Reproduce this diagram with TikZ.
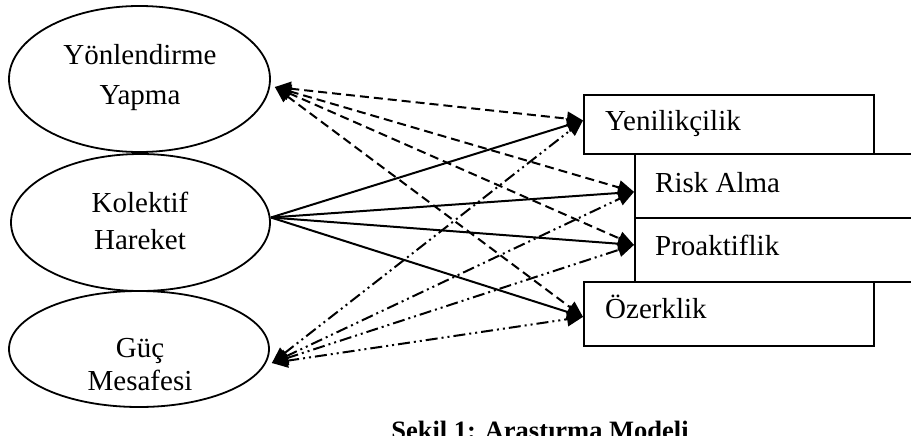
\documentclass[tikz,border=0pt]{standalone}
\usepackage{fontspec}
\setmainfont{Liberation Serif}
\usetikzlibrary{shapes.geometric,arrows.meta}
\begin{document}
\begin{tikzpicture}[x=1pt,y=-1pt,
  oval/.style={draw,ellipse,line width=1.8pt,inner sep=0pt},
  box/.style={draw,rectangle,line width=1.8pt,anchor=north west,inner sep=0pt},
  lbl/.style={font=\fontsize{29}{34}\selectfont,anchor=base,inner sep=0pt},
  blbl/.style={lbl,anchor=base west},
  tip/.tip={Triangle[length=16pt,width=14pt]},
  conn/.style={line width=2pt,-tip},
  both/.style={line width=2pt,tip-tip},
  dsh/.style={both,dash pattern=on 9pt off 5pt},
  ddd/.style={both,dash pattern=on 12pt off 4pt on 2pt off 4pt on 2pt off 4pt},
]
\useasboundingbox (0,0) rectangle (911,436);
\clip (0,0) rectangle (911,436);

% ellipses
\node[oval,minimum width=261pt,minimum height=146pt] (e1) at (139.5,79) {};
\node[oval,minimum width=259pt,minimum height=137pt] (e2) at (140.5,222.5) {};
\node[oval,minimum width=260pt,minimum height=116pt] (e3) at (139,349) {};

\node[lbl] (t1a) at (140,65) {Yönlendirme};
\node[lbl] (t1b) at (140,104) {Yapma};
\node[lbl] (t2a) at (140,212) {Kolektif};
\node[lbl] (t2b) at (140,249) {Hareket};
\node[lbl] (t3a) at (140,357) {Güç};
\node[lbl] (t3b) at (140,390) {Mesafesi};

% boxes
\node[box,minimum width=290pt,minimum height=59pt] (yen) at (583,94) {};
\node[box,minimum width=306pt,minimum height=64pt] (risk) at (634,153) {};
\node[box,minimum width=306pt,minimum height=64pt] (pro) at (634,217) {};
\node[box,minimum width=290pt,minimum height=64pt] (oz) at (583,281) {};

\node[blbl] (ty) at (605,131) {Yenilikçilik};
\node[blbl] (tr) at (655,192) {Risk Alma};
\node[blbl] (tp) at (655,255) {Proaktiflik};
\node[blbl] (to) at (605,318) {Özerklik};

% connector ends
\coordinate (s1) at ([shift={(4,8)}]e1.east);
\coordinate (s2) at ([shift={(0,-5)}]e2.east);
\coordinate (s3) at ([shift={(2,14)}]e3.east);
\coordinate (yIn) at ([shift={(0,-4)}]yen.west);
\coordinate (rIn) at ([shift={(0,6)}]risk.west);
\coordinate (pIn) at ([shift={(0,-5)}]pro.west);
\coordinate (oIn) at ([shift={(0,3)}]oz.west);

% dashed from Yönlendirme
\draw[dsh] (s1) -- (yIn);
\draw[dsh] (s1) -- (rIn);
\draw[dsh] (s1) -- (pIn);
\draw[dsh] (s1) -- (oIn);
% solid from Kolektif
\draw[conn] (s2) -- (yIn);
\draw[conn] (s2) -- (rIn);
\draw[conn] (s2) -- (pIn);
\draw[conn] (s2) -- (oIn);
% dash-dot-dot from Güç
\draw[ddd] (s3) -- (yIn);
\draw[ddd] (s3) -- (rIn);
\draw[ddd] (s3) -- (pIn);
\draw[ddd] (s3) -- (oIn);

\node[font=\bfseries\fontsize{26.5}{30}\selectfont,anchor=base,inner sep=0pt] (cap) at (540,439) {Şekil 1: Araştırma Modeli};
\end{tikzpicture}
\end{document}
